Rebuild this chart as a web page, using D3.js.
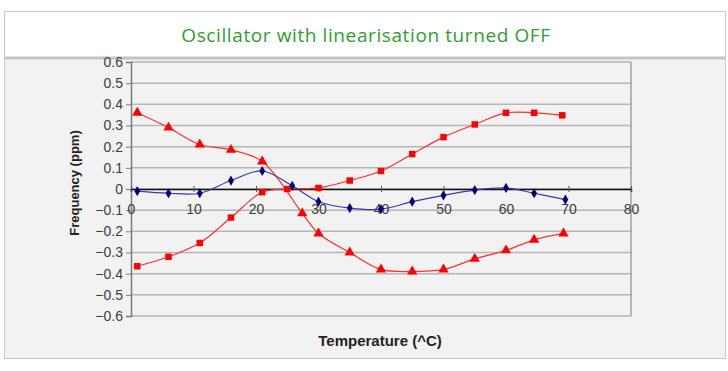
<!DOCTYPE html>
<html>
<head>
<meta charset="utf-8">
<script src="https://cdn.jsdelivr.net/npm/d3@7"></script>
<style>
  html, body { margin: 0; padding: 0; background: #fff; }
  svg { display: block; }
</style>
</head>
<body>
<svg id="chart" width="728" height="371"></svg>
<script>
// data
const blueTemp = [1, 6, 11, 16, 21, 25.8, 30, 35, 40, 45, 50, 55, 60, 64.5, 69.5];
const blueFreq = [-0.01, -0.02, -0.02, 0.04, 0.085, 0.015, -0.06, -0.09, -0.095, -0.06, -0.03, -0.005, 0.005, -0.02, -0.05];

const squareTemp = [1, 6, 11, 16, 21, 25, 30, 35, 40, 45, 50, 55, 60, 64.5, 69];
const squareFreq = [-0.365, -0.32, -0.255, -0.135, -0.015, 0, 0.005, 0.04, 0.085, 0.165, 0.245, 0.305, 0.36, 0.36, 0.348];

const triTemp = [1, 6, 11, 16, 21, 27.4, 30, 35, 40, 45, 50, 55, 60, 64.5, 69.2];
const triFreq = [0.36, 0.29, 0.21, 0.185, 0.13, -0.115, -0.21, -0.30, -0.38, -0.39, -0.38, -0.33, -0.29, -0.24, -0.21];

const xTicks = [0, 10, 20, 30, 40, 50, 60, 70, 80];
const yTicks = [-0.6, -0.5, -0.4, -0.3, -0.2, -0.1, 0, 0.1, 0.2, 0.3, 0.4, 0.5, 0.6];

const title = "Oscillator with linearisation turned OFF";
const xLabel = "Temperature (^C)";
const yLabel = "Frequency (ppm)";

const zip = (xs, ys) => xs.map((x, i) => ({ x, y: ys[i] }));

const svg = d3.select('#chart');

// outer frame + title band
svg.append('rect')
    .attr('x', 4.5).attr('y', 11.5)
    .attr('width', 721).attr('height', 347)
    .attr('fill', '#f2f2f2')
    .attr('stroke', '#c8c8c8');
svg.append('rect')
    .attr('x', 5).attr('y', 12)
    .attr('width', 720).attr('height', 45)
    .attr('fill', '#ffffff');
svg.append('line')
    .attr('x1', 5).attr('x2', 725)
    .attr('y1', 58).attr('y2', 58)
    .attr('stroke', '#c4c4c4')
    .attr('stroke-width', 3);

svg.append('text')
    .attr('x', 366).attr('y', 42)
    .attr('text-anchor', 'middle')
    .attr('font-family', '"Open Sans", sans-serif')
    .attr('font-size', 19)
    .attr('letter-spacing', 0.6)
    .attr('fill', '#2f9e2f')
    .text(title);

const xScale = d3.scaleLinear().domain([0, 80]).range([131, 631]);
const yScale = d3.scaleLinear().domain([-0.6, 0.6]).range([316, 62]);

const g = svg.append('g');

// gridlines
g.selectAll('.grid').data(yTicks)
    .enter().append('line')
    .attr('class', 'grid')
    .attr('x1', xScale(0)).attr('x2', xScale(80))
    .attr('y1', d => yScale(d)).attr('y2', d => yScale(d))
    .attr('stroke', '#b6b6b6')
    .attr('stroke-width', 1.5);

// right border
g.append('line')
    .attr('x1', xScale(80)).attr('x2', xScale(80))
    .attr('y1', yScale(0.6)).attr('y2', yScale(-0.6))
    .attr('stroke', '#a0a0a0')
    .attr('stroke-width', 1.5);

// y axis
const yAxis = d3.axisLeft(yScale)
    .tickValues(yTicks)
    .tickSize(5)
    .tickPadding(3)
    .tickFormat(d => d === 0 ? '0' : d3.format('.1f')(d));

const yAxisG = g.append('g')
    .attr('transform', `translate(${xScale(0)},0)`)
    .call(yAxis);
yAxisG.select('.domain').attr('stroke', '#7a7a7a').attr('stroke-width', 1.5);
yAxisG.selectAll('.tick line').attr('stroke', '#7a7a7a');
yAxisG.selectAll('.tick text')
    .attr('font-family', '"Liberation Sans", Arial, sans-serif')
    .attr('font-size', 14)
    .attr('fill', '#3c3c3c');

// x axis on the zero line
const xAxis = d3.axisBottom(xScale)
    .tickValues(xTicks)
    .tickSize(3)
    .tickPadding(12)
    .tickFormat(d3.format('d'));

const xAxisG = g.append('g')
    .attr('transform', `translate(0,${yScale(0)})`)
    .call(xAxis);
xAxisG.select('.domain').attr('stroke', '#111').attr('stroke-width', 1.5);
xAxisG.selectAll('.tick line').attr('stroke', '#555').attr('y1', -3);
xAxisG.selectAll('.tick text')
    .attr('font-family', '"Liberation Sans", Arial, sans-serif')
    .attr('font-size', 14)
    .attr('fill', '#3c3c3c');

// axis titles
svg.append('text')
    .attr('transform', `translate(79,183) rotate(-90)`)
    .attr('text-anchor', 'middle')
    .attr('font-family', '"Liberation Sans", Arial, sans-serif')
    .attr('font-weight', 'bold')
    .attr('font-size', 13)
    .attr('fill', '#222')
    .text(yLabel);

svg.append('text')
    .attr('x', 380).attr('y', 346)
    .attr('text-anchor', 'middle')
    .attr('font-family', '"Liberation Sans", Arial, sans-serif')
    .attr('font-weight', 'bold')
    .attr('font-size', 15)
    .attr('fill', '#222')
    .text(xLabel);

// series
const line = d3.line()
    .x(d => xScale(d.x))
    .y(d => yScale(d.y))
    .curve(d3.curveCatmullRom.alpha(0.5));

const series = [
    { data: zip(triTemp, triFreq), stroke: '#ff3030', fill: '#ff0000', symbol: d3.symbolTriangle, size: 46 },
    { data: zip(squareTemp, squareFreq), stroke: '#ff3030', fill: '#ff0000', symbol: d3.symbolSquare, size: 42 },
    { data: zip(blueTemp, blueFreq), stroke: '#3a3aa0', fill: '#00007a', symbol: d3.symbolDiamond, size: 30 }
];

series.forEach(s => {
    g.append('path')
        .datum(s.data)
        .attr('fill', 'none')
        .attr('stroke', s.stroke)
        .attr('stroke-width', 1.2)
        .attr('d', line);
});

series.forEach(s => {
    g.append('g').selectAll('path').data(s.data)
        .enter().append('path')
        .attr('transform', d => `translate(${xScale(d.x)},${yScale(d.y)})`)
        .attr('d', d3.symbol().type(s.symbol).size(s.size))
        .attr('fill', s.fill);
});
</script>
</body>
</html>
